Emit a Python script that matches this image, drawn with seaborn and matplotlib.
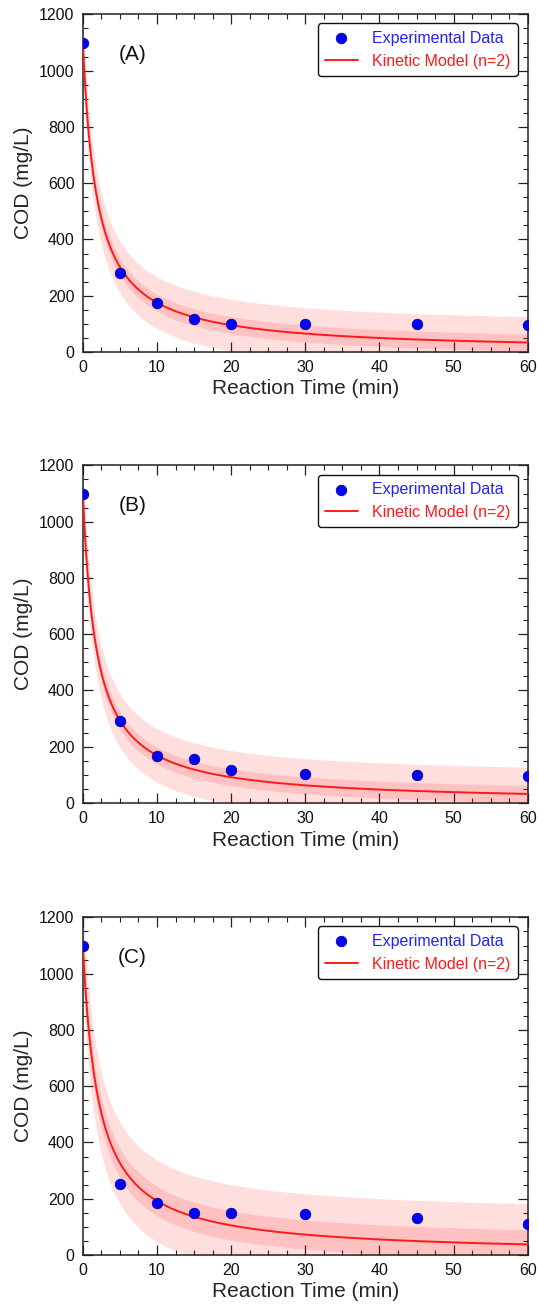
import matplotlib
matplotlib.use("Agg")
import matplotlib.pyplot as plt
import numpy as np
import pandas as pd
import seaborn as sns
from matplotlib.ticker import MultipleLocator

# measured COD (mg/L) at each reaction time (min)
time_points = [0, 5, 10, 15, 20, 30, 45, 60]
cod_a = [1100, 280, 175, 118, 100, 100, 100, 97]
cod_b = [1100, 290, 167, 155, 117, 103, 100, 96]
cod_c = [1100, 254, 184, 148, 148, 145, 131, 109]

panel_labels = ["(A)", "(B)", "(C)"]

# second-order model C = C0 / (1 + k*C0*t)
initial_cod = 1100
rate_constants = [4.8e-4, 5.0e-4, 4.3e-4]  # L/(mg*min)
inner_band = [30, 30, 52]   # half width, mg/L
outer_band = [92, 95, 145]  # half width, mg/L

sns.set_theme(style="ticks")
plt.rcParams["font.family"] = ["Liberation Sans", "DejaVu Sans"]

fig = plt.figure(figsize=(5.38, 13.07), dpi=100)
panel_bottoms = [0.7307, 0.3856, 0.0398]

t_model = np.linspace(0, 60, 601)

for i, cod in enumerate([cod_a, cod_b, cod_c]):
    ax = fig.add_axes([0.154, panel_bottoms[i], 0.827, 0.2583])

    model = initial_cod / (1 + rate_constants[i] * initial_cod * t_model)
    ax.fill_between(t_model, model - outer_band[i], model + outer_band[i],
                    color="red", alpha=0.13, linewidth=0, zorder=1)
    ax.fill_between(t_model, model - inner_band[i], model + inner_band[i],
                    color="red", alpha=0.13, linewidth=0, zorder=1)

    model_df = pd.DataFrame({"t": t_model, "cod": model})
    sns.lineplot(data=model_df, x="t", y="cod", ax=ax, color="#ff1a1a",
                 linewidth=1.4, label="Kinetic Model (n=2)", zorder=3)

    data_df = pd.DataFrame({"t": time_points, "cod": cod})
    sns.scatterplot(data=data_df, x="t", y="cod", ax=ax, color="#0000ff",
                    s=60, edgecolor="#000055", linewidth=0.4,
                    label="Experimental Data", zorder=4)

    ax.set_xlim(0, 60)
    ax.set_ylim(0, 1200)
    ax.xaxis.set_major_locator(MultipleLocator(10))
    ax.xaxis.set_minor_locator(MultipleLocator(2.5))
    ax.yaxis.set_major_locator(MultipleLocator(200))
    ax.yaxis.set_minor_locator(MultipleLocator(50))
    ax.tick_params(which="both", direction="in", top=True, right=True,
                   colors="#222222", labelcolor="#111111")
    ax.tick_params(which="major", length=7, width=0.9, labelsize=11.5, pad=6)
    ax.tick_params(which="minor", length=3.5, width=0.8)
    for spine in ax.spines.values():
        spine.set_visible(True)
        spine.set_linewidth(1.1)
        spine.set_color("#222222")

    ax.set_xlabel("Reaction Time (min)", fontsize=15, labelpad=3)
    ax.set_ylabel("COD (mg/L)", fontsize=15, labelpad=4)
    ax.text(0.112, 0.882, panel_labels[i], transform=ax.transAxes,
            fontsize=15, ha="center", va="center", color="#111111")

    handles, labels = ax.get_legend_handles_labels()
    order = [labels.index("Experimental Data"), labels.index("Kinetic Model (n=2)")]
    leg = ax.legend([handles[j] for j in order], [labels[j] for j in order],
                    loc="upper right", bbox_to_anchor=(0.977, 0.973),
                    borderaxespad=0, fontsize=11.5, frameon=True, fancybox=True,
                    framealpha=1, edgecolor="#111111", handlelength=2.05,
                    handletextpad=0.9, borderpad=0.45, labelspacing=0.5)
    leg.get_frame().set_linewidth(1.0)
    leg.get_texts()[0].set_color("#2222ff")
    leg.get_texts()[1].set_color("#ff1a1a")

fig.savefig("out.png", dpi=100)
